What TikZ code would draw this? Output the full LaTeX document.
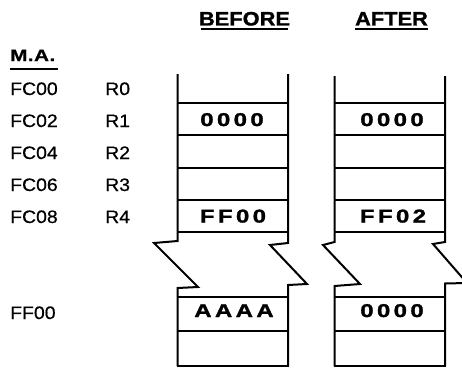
\documentclass[tikz,border=0pt]{standalone}
\usepackage{fontspec}
\setmainfont{Liberation Sans}
\newfontfamily\titlefont[FakeStretch=1.12,FakeBold=1.2]{Liberation Sans}
\newfontfamily\valfont[FakeStretch=1.3,LetterSpace=18,FakeBold=1.5]{Liberation Sans}
\newfontfamily\labfont[FakeStretch=1.08,FakeBold=0.6]{Liberation Sans}
\newfontfamily\mafont[FakeStretch=1.25,LetterSpace=3,FakeBold=1]{Liberation Sans}
\begin{document}
\begin{tikzpicture}[x=1pt,y=-1pt,
  wall/.style={line width=2pt,line join=miter,line cap=butt},
  rowline/.style={line width=1.8pt},
  uline/.style={line width=2pt},
  title/.style={inner sep=0pt,anchor=base,font=\titlefont\bfseries\fontsize{19.5}{21}\selectfont},
  lab/.style={inner sep=0pt,anchor=base west,font=\labfont\fontsize{18}{20}\selectfont},
  val/.style={inner sep=0pt,anchor=base,font=\valfont\bfseries\fontsize{18.5}{20}\selectfont}]
\useasboundingbox (0,0) rectangle (462,369);
\clip (0,0) rectangle (462,369);
% titles
\node[title] (bef) at (244.5,25.5) {BEFORE};
\node[title] (aft) at (391.5,25.5) {AFTER};
\draw[uline] (201,29.5) -- (288,29.5);
\draw[uline] (355,29.5) -- (428,29.5);
\node[inner sep=0pt,anchor=base west,font=\mafont\bfseries\fontsize{16.5}{18}\selectfont] (ma) at (10,61) {M.A.};
\draw[uline] (10,69) -- (58,69);
% left labels
\node[lab] (a0) at (10,95) {FC00};
\node[lab] (a1) at (10,127) {FC02};
\node[lab] (a2) at (10,159) {FC04};
\node[lab] (a3) at (10,191) {FC06};
\node[lab] (a4) at (10,223) {FC08};
\node[lab] (a5) at (10,319) {FF00};
\node[lab] (r0) at (105,95) {R0};
\node[lab] (r1) at (105,127) {R1};
\node[lab] (r2) at (105,159) {R2};
\node[lab] (r3) at (105,191) {R3};
\node[lab] (r4) at (105,223) {R4};
% BEFORE column
\draw[wall] (177.5,74) -- (177.5,241) -- (154,243) -- (198,287) -- (177.5,288) -- (177.5,366);
\draw[wall] (288,74) -- (288,243) -- (270,245) -- (307,284) -- (288,285) -- (288,366);
\foreach \y in {103,135,168,200,232,297,331} \draw[rowline] (177.5,\y) -- (288,\y);
\draw[wall] (176.5,366) -- (289,366);
% AFTER column
\draw[wall] (334.5,76) -- (334.5,242) -- (323,245) -- (360,284) -- (334.5,286) -- (334.5,366);
\draw[wall] (445,76) -- (445,242) -- (433,244) -- (467,283) -- (445,283.5) -- (445,366);
\foreach \y in {103,135,168,200,232,297,331} \draw[rowline] (334.5,\y) -- (445,\y);
\draw[wall] (333.5,366) -- (446,366);
% values
\node[val] (b1) at (232,126) {0000};
\node[val] (b4) at (233,222.5) {FF00};
\node[val] (b5) at (234,317) {AAAA};
\node[val] (c1) at (392,126) {0000};
\node[val] (c4) at (393,222.5) {FF02};
\node[val] (c5) at (392,317) {0000};
\end{tikzpicture}
\end{document}
